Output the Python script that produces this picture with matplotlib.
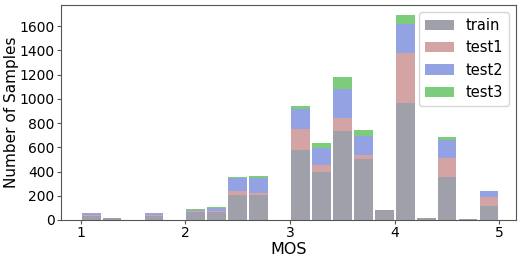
import numpy as np
import matplotlib
matplotlib.use('Agg')
import matplotlib.pyplot as plt

# MOS bins (left edges, width 0.2)
bin_left = [1.0, 1.2, 1.4, 1.6, 1.8, 2.0, 2.2, 2.4, 2.6, 2.8,
            3.0, 3.2, 3.4, 3.6, 3.8, 4.0, 4.2, 4.4, 4.6, 4.8]
train = [35, 16, 0, 36, 0, 63, 69, 206, 206, 0, 577, 396, 736, 503, 80, 967, 16, 354, 5, 118]
test1 = [2, 0, 0, 2, 0, 11, 7, 30, 14, 0, 173, 60, 107, 36, 0, 410, 0, 154, 0, 69]
test2 = [21, 0, 0, 20, 0, 8, 23, 107, 129, 0, 168, 138, 237, 154, 0, 241, 0, 154, 0, 49]
test3 = [0, 0, 0, 0, 0, 8, 8, 14, 14, 0, 25, 38, 102, 52, 0, 78, 0, 22, 0, 0]

series = [('train', train, '#a0a0aa'),
          ('test1', test1, '#d4a4a4'),
          ('test2', test2, '#92a2e2'),
          ('test3', test3, '#7ccc7c')]

fig = plt.figure(figsize=(5.24, 2.6), dpi=100)
ax = fig.add_axes([0.116, 0.154, 0.869, 0.827])

bw = 0.2
bottom = np.zeros(len(bin_left))
for name, vals, col in series:
    ax.bar(np.array(bin_left) + bw / 2, vals, width=bw * 0.9, bottom=bottom,
           color=col, linewidth=0, label=name)
    bottom += np.array(vals)

ax.set_xlim(0.81, 5.16)
ax.set_ylim(0, 1775)
ax.set_xticks([1, 2, 3, 4, 5])
ax.set_yticks(range(0, 1601, 200))
ax.tick_params(labelsize=10, length=3, pad=1.5, color='#555555')
ax.set_xlabel('MOS', fontsize=11.5, labelpad=1)
ax.set_ylabel('Number of Samples', fontsize=11)
ax.yaxis.set_label_coords(-0.092, 0.5)
for s in ax.spines.values():
    s.set_color('#555555')
ax.legend(fontsize=10.5, loc='upper right')

fig.savefig('out.png', dpi=100)
